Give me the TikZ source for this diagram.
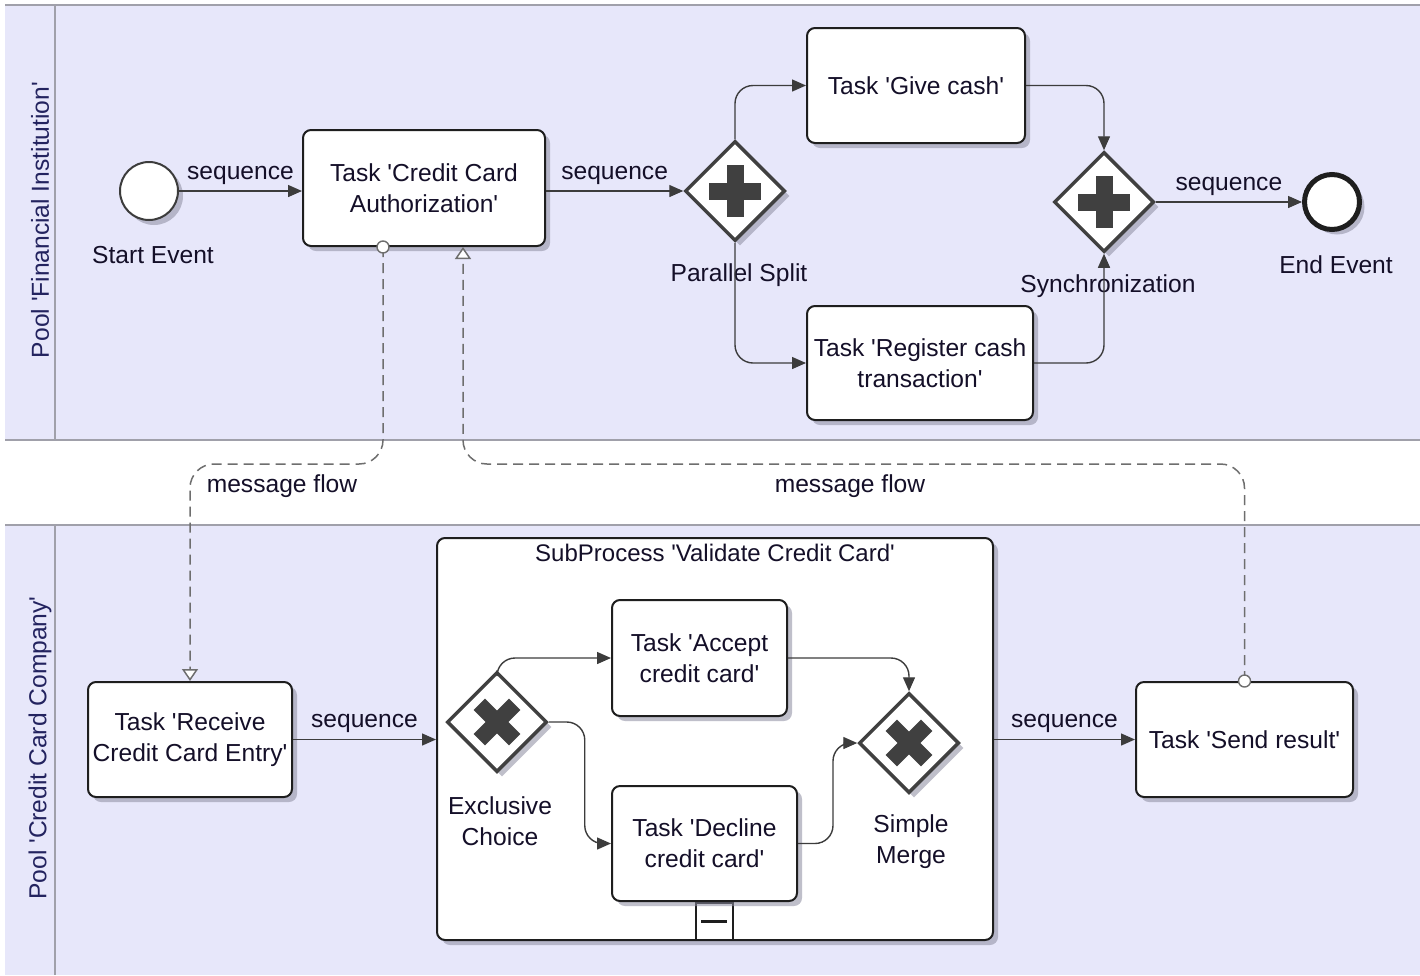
\documentclass[tikz,border=0pt]{standalone}
\usepackage{fontspec}
\setmainfont{Liberation Sans}[Ligatures=TeXOff]
\usetikzlibrary{arrows.meta,shapes.geometric,shadows,calc}

\definecolor{poolfill}{RGB}{231,231,250}
\definecolor{poolline}{RGB}{160,160,170}
\definecolor{ink}{RGB}{20,15,40}
\definecolor{poolink}{RGB}{35,35,95}
\definecolor{edgec}{RGB}{60,60,60}
\definecolor{msgc}{RGB}{110,110,110}
\definecolor{shade}{RGB}{140,140,160}
\definecolor{markc}{RGB}{64,64,64}
\definecolor{framec}{RGB}{30,30,30}

\newcommand\bpmnfont{\fontsize{24.6}{31}\selectfont}
\newcommand\titlefont{\fontsize{24}{28}\selectfont}

% gateway markers
\newcommand\plusmark[1]{%
  \fill[markc] ([shift={(-26pt,-8.5pt)}]#1.center) rectangle ([shift={(26pt,8.5pt)}]#1.center);
  \fill[markc] ([shift={(-8.5pt,-26pt)}]#1.center) rectangle ([shift={(8.5pt,26pt)}]#1.center);}
\newcommand\crossmark[1]{%
  \begin{scope}[shift={(#1.center)}, rotate=45]
    \fill[markc] (-25pt,-8pt) rectangle (25pt,8pt);
    \fill[markc] (-8pt,-25pt) rectangle (8pt,25pt);
  \end{scope}}

\begin{document}
\begin{tikzpicture}[x=1pt,y=-1pt,
  every node/.style={text=ink, font=\bpmnfont},
  dshadow/.style={drop shadow={shadow xshift=5pt, shadow yshift=-5pt, fill=shade, opacity=0.55}},
  task/.style={draw=framec, line width=2pt, fill=white, rounded corners=8pt,
    align=center, inner sep=0pt, dshadow},
  gate/.style={shape=diamond, draw=markc, line width=3.5pt, fill=white,
    minimum width=100pt, minimum height=100pt, inner sep=0pt, dshadow},
  startev/.style={circle, draw=edgec, line width=2pt, fill=white,
    minimum size=58pt, inner sep=0pt, dshadow},
  endev/.style={circle, draw=framec, line width=5pt, fill=white,
    minimum size=55pt, inner sep=0pt, dshadow},
  seq/.style={draw=edgec, line width=1.4pt, rounded corners=18pt,
    -{Triangle[length=14pt,width=12pt]}},
  msg/.style={draw=msgc, line width=1.5pt, dash pattern=on 10pt off 6pt,
    rounded corners=24pt},
  msgend/.style={-{Triangle[open,length=12pt,width=16pt,fill=white]}},
  msgdot/.style={circle, draw=msgc, line width=1.4pt, fill=white,
    minimum size=12pt, inner sep=0pt},
  lbl/.style={inner sep=0pt, align=center},
  seqlbl/.style={inner sep=0pt, midway, yshift=16pt}
]
\useasboundingbox (0,0) rectangle (1420,975);
\fill[white] (0,0) rectangle (1420,975);

% pools
\fill[poolfill] (5,5) rectangle (1420,440);
\fill[poolfill] (5,525) rectangle (1420,975);
\draw[poolline, line width=1.5pt] (5,5) -- (1420,5);
\draw[poolline, line width=1.5pt] (5,440) -- (1420,440);
\draw[poolline, line width=1.5pt] (5,525) -- (1420,525);
\draw[poolline, line width=1.5pt] (55,5) -- (55,440);
\draw[poolline, line width=1.5pt] (55,525) -- (55,975);
\node[lbl, rotate=90, text=poolink] (poolA) at (40,220) {Pool 'Financial Institution'};
\node[lbl, rotate=90, text=poolink] (poolB) at (40,748) {Pool 'Credit Card Company'};

% pool 'Financial Institution'
\node[startev] (start) at (149,191) {};
\node[lbl] (startlbl) at (153,255) {Start Event};
\node[task, minimum width=242pt, minimum height=116pt] (cca) at (424,188)
  {Task 'Credit Card\\Authorization'};
\node[gate] (split) at (735,191) {};
\plusmark{split}
\node[lbl] (splitlbl) at (739,275) {Parallel Split};
\node[task, minimum width=218pt, minimum height=115pt] (give) at (916,85.5)
  {Task 'Give cash'};
\node[task, minimum width=226pt, minimum height=114pt] (reg) at (920,363)
  {Task 'Register cash\\transaction'};
\node[gate] (sync) at (1104,202) {};
\plusmark{sync}
\node[lbl] (synclbl) at (1108,286) {Synchronization};
\node[endev] (end) at (1332,202) {};
\node[lbl] (endlbl) at (1336,265) {End Event};

% pool 'Credit Card Company'
\node[task, minimum width=204pt, minimum height=115pt] (recv) at (190,739.5)
  {Task 'Receive\\Credit Card Entry'};
\node[task, minimum width=556pt, minimum height=402pt] (sub) at (715,739) {};
\node[lbl, font=\titlefont] (subtitle) at (715,553) {SubProcess 'Validate Credit Card'};
\node[draw=framec, line width=2pt, fill=white, minimum width=37pt, minimum height=37pt,
  inner sep=0pt] (coll) at (714,921.5) {};
\draw[framec, line width=3pt] ([xshift=-13pt]coll.center) -- ([xshift=13pt]coll.center);
\node[gate] (xor) at (497,722) {};
\crossmark{xor}
\node[lbl] (xorlbl) at (500,821) {Exclusive\\Choice};
\node[task, minimum width=175pt, minimum height=116pt] (acc) at (699.5,658)
  {Task 'Accept\\credit card'};
\node[task, minimum width=185pt, minimum height=115pt] (dec) at (704.5,843.5)
  {Task 'Decline\\credit card'};
\node[gate] (merge) at (909,743) {};
\crossmark{merge}
\node[lbl] (mergelbl) at (911,842) {Simple\\Merge};
\node[task, minimum width=217pt, minimum height=115pt] (send) at (1244.5,739.5)
  {Task 'Send result'};

% sequence flows
\draw[seq] (start) -- (start -| cca.west) node[seqlbl] {sequence};
\draw[seq] (cca.east |- split) -- (split.west) node[seqlbl] {sequence};
\draw[seq] (split.north) |- (give.west);
\draw[seq] (split.south) |- (reg.west);
\draw[seq] (give.east) -| (sync.north);
\draw[seq] (reg.east) -| (sync.south);
\draw[seq] (sync.east) -- (end) node[seqlbl] {sequence};
\draw[seq] (recv.east) -- (recv.east -| sub.west) node[seqlbl] {sequence};
\draw[seq] (xor.north) |- (acc.west);
\draw[seq] (xor.east) -- ++(36,0) |- (dec.west);
\draw[seq] (acc.east) -| (merge.north);
\draw[seq] (dec.east) -- ++(35,0) |- (merge.west);
\draw[seq] (sub.east |- send) -- (send.west) node[seqlbl] {sequence};

% message flows
\coordinate (m1s) at ([xshift=-41pt]cca.south);
\coordinate (m2e) at ([xshift=39pt]cca.south);
\coordinate (mlane) at (0,464);
\draw[msg, msgend] (m1s) -- (m1s |- mlane) -| (recv.north);
\draw[msg, msgend] (send.north) -- (send.north |- mlane) -| (m2e);
\node[msgdot] (m1dot) at (m1s) {};
\node[msgdot] (m2dot) at (send.north) {};
\node[lbl] (msglbl1) at (282,486) {message flow};
\node[lbl] (msglbl2) at (850,486) {message flow};
\end{tikzpicture}
\end{document}
